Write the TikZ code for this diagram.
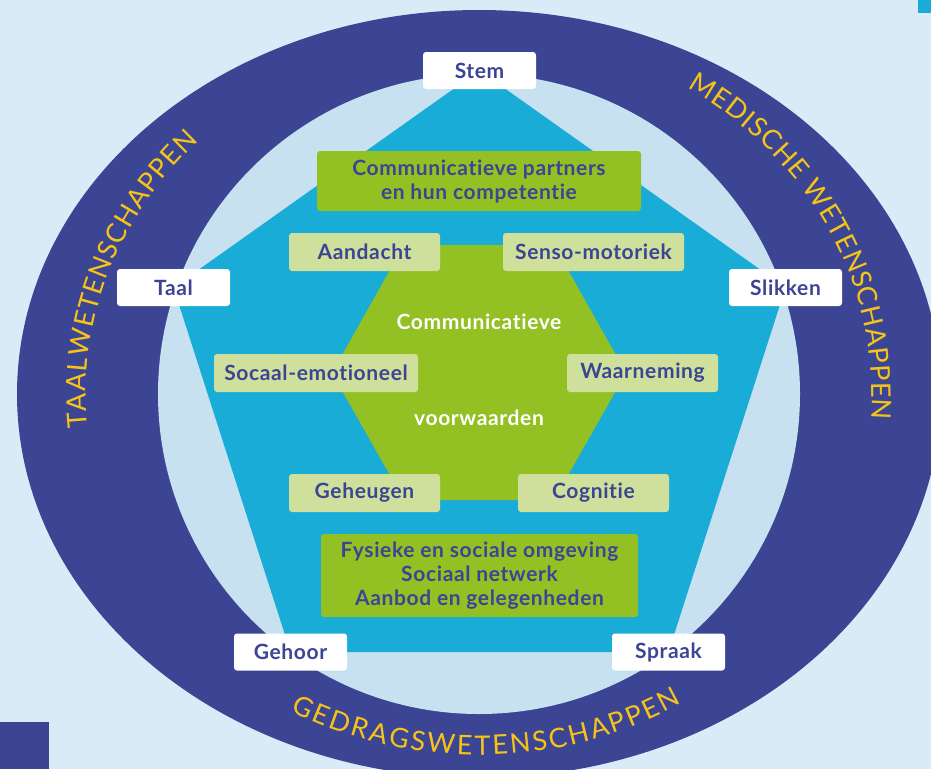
\documentclass[tikz,border=0pt]{standalone}
\usepackage{fontspec}
\setmainfont{Lato}
\newfontfamily\labelfamily{Lato}[LetterSpace=3, Ligatures={NoCommon}]
\usetikzlibrary{decorations.text}

\definecolor{paleblue}{RGB}{217,235,247}
\definecolor{ringblue}{RGB}{60,68,148}
\definecolor{innerblue}{RGB}{200,225,241}
\definecolor{pentacyan}{RGB}{24,172,214}
\definecolor{leafgreen}{RGB}{147,192,35}
\definecolor{palegreen}{RGB}{207,224,156}
\definecolor{ringyellow}{RGB}{246,196,24}

\newcommand\boxfont{\labelfamily\bfseries\fontsize{21}{24}\selectfont}
\newcommand\ringfont{\fontsize{27}{27}\selectfont}

\begin{document}
\begin{tikzpicture}[
  x=1pt, y=-1pt,
  sense/.style={fill=white, rounded corners=3pt, minimum width=113pt,
    minimum height=37pt, inner sep=0pt, text=ringblue, font=\boxfont},
  cond/.style={fill=palegreen, rounded corners=3pt, minimum height=38pt,
    inner sep=0pt, text=ringblue, font=\boxfont},
  ctx/.style={fill=leafgreen, rounded corners=3pt, inner sep=0pt,
    align=center, text=ringblue, font=\boxfont},
  core/.style={text=white, font=\boxfont},
  ring/.style={decorate, decoration={text along path, text align=fit to path,
    text color=ringyellow}}
]

\useasboundingbox (0,0) rectangle (931,769);
\clip (0,0) rectangle (931,769);
\fill [paleblue] (0,0) rectangle (931,769);
\fill [pentacyan] (918,0) rectangle (931,13);
\fill [ringblue] (0,722) rectangle (49,769);

% rings
\fill [ringblue] (479,394) ellipse [x radius=462, y radius=384];
\fill [innerblue] (479,394) ellipse [x radius=321, y radius=320];

% pentagon corners
\coordinate (stem) at (479.5,70.5);
\coordinate (slikken) at (785.5,287.5);
\coordinate (spraak) at (668.5,652);
\coordinate (gehoor) at (290.5,652);
\coordinate (taal) at (173.5,287.5);

\fill [pentacyan] (stem) -- (slikken) -- (spraak) -- (gehoor) -- (taal) -- cycle;

% hexagon
\fill [leafgreen] (404,245) -- (554,245) -- (626,373) -- (554,500)
  -- (404,500) -- (332,373) -- cycle;

\node [core] (comm) at (479,322) {Communicatieve};
\node [core] (voorw) at (479,418) {voorwaarden};

\node [cond, minimum width=151pt] (aandacht) at (364.5,252) {Aandacht};
\node [cond, minimum width=181pt] (senso) at (593.5,252) {Senso-motoriek};
\node [cond, minimum width=204pt] (socaal) at (316,373) {Socaal-emotioneel};
\node [cond, minimum width=151pt] (waarn) at (642.5,373) {Waarneming};
\node [cond, minimum width=151pt] (geheugen) at (364.5,493) {Geheugen};
\node [cond, minimum width=151pt] (cognitie) at (593.5,493) {Cognitie};

\node [ctx, minimum width=324pt, minimum height=60pt] (partners) at (479,181)
  {Communicatieve partners\\en hun competentie};
\node [ctx, minimum width=317pt, minimum height=83pt] (omgeving) at (479.5,575.5)
  {Fysieke en sociale omgeving\\Sociaal netwerk\\Aanbod en gelegenheden};

\node [sense] (stemlbl) at (stem) {Stem};
\node [sense] (slikkenlbl) at (slikken) {Slikken};
\node [sense] (spraaklbl) at (spraak) {Spraak};
\node [sense] (gehoorlbl) at (gehoor) {Gehoor};
\node [sense] (taallbl) at (taal) {Taal};

% ring texts
\path [ring, decoration={text={|\ringfont|TAALWETENSCHAPPEN}}]
  (479,394) ++(174.6:393 and 361)
  arc [start angle=174.6, end angle=224.5, x radius=393, y radius=361];
\path [ring, decoration={text={|\ringfont|MEDISCHE WETENSCHAPPEN}}]
  (479,394) ++(302:393 and 361)
  arc [start angle=302, end angle=364, x radius=393, y radius=361];
\path [ring, decoration={text={|\ringfont|GEDRAGSWETENSCHAPPEN}}]
  (479,394) ++(118.6:393 and 361)
  arc [start angle=118.6, end angle=58.9, x radius=393, y radius=361];

\end{tikzpicture}
\end{document}
